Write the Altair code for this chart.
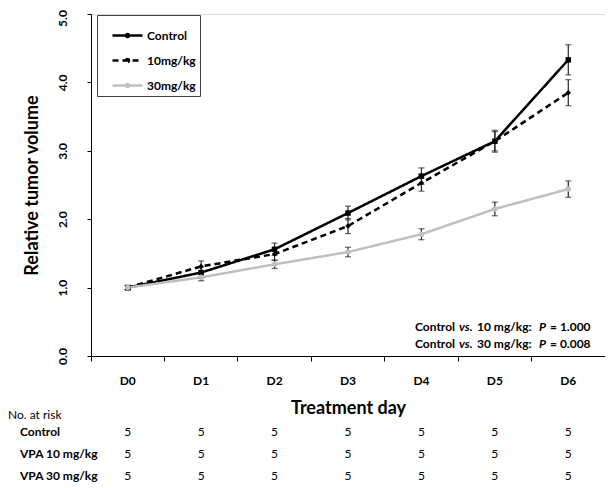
import altair as alt
import pandas as pd

days = ["D0", "D1", "D2", "D3", "D4", "D5", "D6"]
groups = ["Control", "10mg/kg", "30mg/kg"]
control = [1.00, 1.22, 1.56, 2.09, 2.63, 3.14, 4.33]
control_err = [0.03, 0.08, 0.09, 0.10, 0.12, 0.16, 0.22]
mg10 = [1.00, 1.31, 1.49, 1.90, 2.53, 3.14, 3.85]
mg10_err = [0.03, 0.08, 0.09, 0.11, 0.12, 0.14, 0.19]
mg30 = [1.00, 1.15, 1.34, 1.52, 1.78, 2.15, 2.44]
mg30_err = [0.03, 0.05, 0.06, 0.07, 0.08, 0.10, 0.12]

risk_labels = ["Control", "VPA 10 mg/kg", "VPA 30 mg/kg"]
risk_control = [5, 5, 5, 5, 5, 5, 5]
risk_10 = [5, 5, 5, 5, 5, 5, 5]
risk_30 = [5, 5, 5, 5, 5, 5, 5]

FONT = "Lato"

rows = []
for g, vals, errs in [("Control", control, control_err), ("10mg/kg", mg10, mg10_err), ("30mg/kg", mg30, mg30_err)]:
    for d, v, e in zip(days, vals, errs):
        rows.append({"day": d, "group": g, "value": v, "lo": v - e, "hi": v + e})
df = pd.DataFrame(rows)

W, H = 514, 342
xscale = alt.Scale(type="band", domain=days, paddingInner=0, paddingOuter=0)
yscale = alt.Scale(domain=[0, 5], nice=False)

xaxis = alt.Axis(title="Treatment day", bandPosition=0, labelAngle=0,
                 labelFont=FONT, labelFontSize=12, labelFontWeight="bold", labelColor="#000",
                 tickSize=5, labelPadding=14, tickColor="#000", domainColor="#000",
                 titleFont=FONT, titleFontSize=18, titleFontWeight="bold", titleColor="#000",
                 titleY=52, titleBaseline="middle", grid=False)
yaxis = alt.Axis(title="Relative tumor volume", values=[0, 1, 2, 3, 4, 5], format=".1f",
                 labelAngle=270, labelAlign="center", labelBaseline="bottom",
                 labelOffset=alt.condition("datum.value == 5", alt.value(4), alt.value(0)),
                 labelFont=FONT, labelFontSize=12, labelFontWeight="bold", labelColor="#000",
                 tickSize=4, labelPadding=18, tickColor="#000", domainColor="#000",
                 titleFont=FONT, titleFontSize=18, titleFontWeight="bold", titleColor="#000",
                 titleAngle=270, titleX=-59, titleY=H / 2, titleAlign="center",
                 titleBaseline="middle", grid=False)

color_scale = alt.Scale(domain=groups, range=["#000000", "#000000", "#bfbfbf"])
dash_scale = alt.Scale(domain=groups, range=[[1, 0], [6, 4], [1, 0]])

legend = alt.Legend(title=None, orient="none", legendX=6, legendY=1,
                    strokeColor="#404040", fillColor="#ffffff", padding=4,
                    symbolType="M-1,0L1,0M-0.1,0A0.1,0.1,0,1,1,0.1,0A0.1,0.1,0,1,1,-0.1,0Z",
                    symbolSize=900, symbolStrokeWidth=2.5, symbolOffset=10,
                    labelFont=FONT, labelFontSize=12, labelFontWeight="bold", labelColor="#000",
                    labelOffset=3, labelLimit=200)

base = alt.Chart(df)
x = alt.X("day:N", scale=xscale, axis=xaxis, sort=days)

lines = base.mark_line(strokeWidth=2.5).encode(
    x=x,
    y=alt.Y("value:Q", scale=yscale, axis=yaxis),
    color=alt.Color("group:N", scale=color_scale, legend=legend, sort=groups),
    strokeDash=alt.StrokeDash("group:N", scale=dash_scale, legend=legend, sort=groups),
    detail="group:N",
)

err_rule = base.mark_rule(color="#262626", strokeWidth=1.2).encode(
    x=alt.X("day:N", scale=xscale, sort=days), y="lo:Q", y2="hi:Q")
cap_lo = base.mark_tick(color="#262626", thickness=1.2, size=6).encode(
    x=alt.X("day:N", scale=xscale, sort=days), y="lo:Q")
cap_hi = base.mark_tick(color="#262626", thickness=1.2, size=6).encode(
    x=alt.X("day:N", scale=xscale, sort=days), y="hi:Q")

points = base.mark_point(filled=True, opacity=1, size=30).encode(
    x=alt.X("day:N", scale=xscale, sort=days),
    y="value:Q",
    fill=alt.Fill("group:N", scale=alt.Scale(domain=groups, range=["#000000", "#000000", "#bfbfbf"]), legend=None),
    shape=alt.Shape("group:N", scale=alt.Scale(domain=groups, range=["square", "diamond", "circle"]), legend=None),
)

# risk table
risk_rows = []
for lab, vals in zip(risk_labels, [risk_control, risk_10, risk_30]):
    for d, n in zip(days, vals):
        risk_rows.append({"day": d, "row": lab, "n": str(n)})
rdf = pd.DataFrame(risk_rows)
row_y = {"Control": 418, "VPA 10 mg/kg": 440, "VPA 30 mg/kg": 462}

table_layers = []
for lab in risk_labels:
    table_layers.append(
        alt.Chart(rdf[rdf.row == lab]).mark_text(font=FONT, fontSize=12, color="#000", baseline="middle").encode(
            x=alt.X("day:N", scale=xscale, sort=days), y=alt.value(row_y[lab]), text="n:N"))
    table_layers.append(
        alt.Chart(pd.DataFrame({"t": [lab]})).mark_text(font=FONT, fontSize=12, fontWeight="bold", color="#000",
                                                         align="left", baseline="middle").encode(
            x=alt.value(-71), y=alt.value(row_y[lab]), text="t:N"))
table_layers.append(
    alt.Chart(pd.DataFrame({"t": ["No. at risk"]})).mark_text(font=FONT, fontSize=12, color="#000",
                                                              align="left", baseline="middle").encode(
        x=alt.value(-83), y=alt.value(401), text="t:N"))

# p-value annotations
p_lines = [
    ["Control", "vs.", "10 mg/kg:", "P", "= 1.000"],
    ["Control", "vs.", "30 mg/kg:", "P", "= 0.008"],
]
seg_x = [324, 368, 386, 448, 459]
seg_italic = [False, True, False, True, False]
p_y = [313, 330]
p_layers = []
for segs, yy in zip(p_lines, p_y):
    for s, xx, it in zip(segs, seg_x, seg_italic):
        p_layers.append(
            alt.Chart(pd.DataFrame({"t": [s]})).mark_text(
                font=FONT, fontSize=12, fontWeight="bold", fontStyle="italic" if it else "normal",
                color="#000", align="left", baseline="middle").encode(
                x=alt.value(xx), y=alt.value(yy), text="t:N"))

chart = alt.layer(lines, err_rule, cap_lo, cap_hi, points, *table_layers, *p_layers).resolve_scale(
    fill="independent", shape="independent"
).properties(
    width=W, height=H,
    padding={"left": 83, "top": 6, "right": 0, "bottom": 132},
    autosize=alt.AutoSizeParams(type="none"),
).configure_view(stroke="#595959", strokeWidth=1).configure(background="#ffffff")

chart.save("out.html", embed_options={"renderer": "svg", "actions": False})
